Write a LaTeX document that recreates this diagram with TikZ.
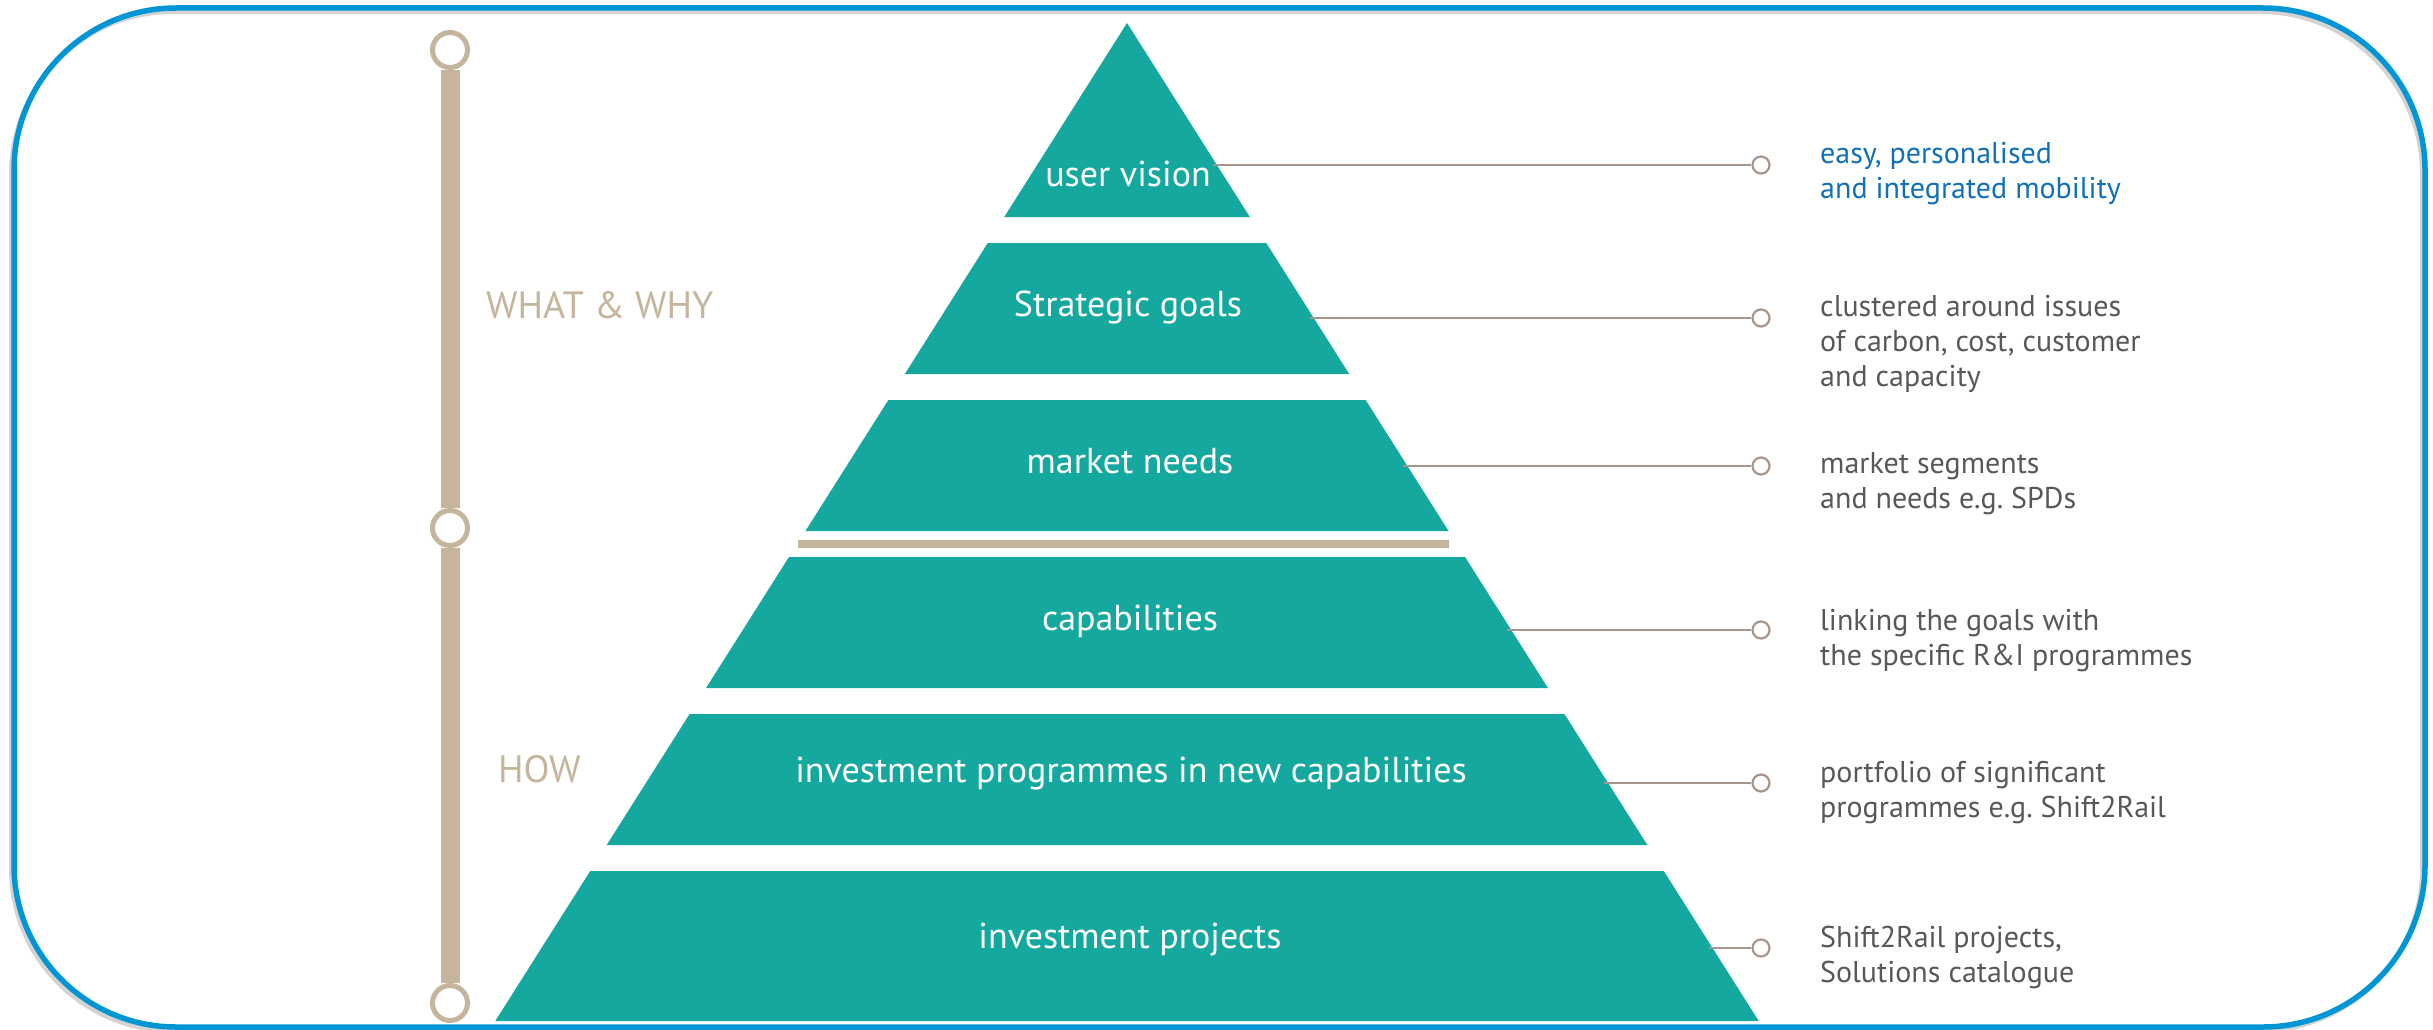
\documentclass[tikz,border=0pt]{standalone}
\usepackage{fontspec}
\setmainfont{PT Sans}
\usepackage{xcolor}
\definecolor{pyrteal}{RGB}{21,168,158}
\definecolor{tan}{RGB}{196,181,156}
\definecolor{frameblue}{RGB}{0,149,213}
\definecolor{noteblue}{RGB}{16,112,186}
\definecolor{notegray}{RGB}{88,88,90}
\definecolor{linkbrown}{RGB}{166,150,140}
\newcommand{\pyrx}{1127}
\newcommand{\slope}{0.633}

\begin{document}
\begin{tikzpicture}[x=1pt, y=-1pt,
  frame/.style={draw=frameblue, line width=5.5pt, rounded corners=162pt},
  tier/.style={fill=pyrteal},
  tierlabel/.style={text=white, font=\fontsize{36}{40}\selectfont, anchor=base, inner sep=0pt},
  note/.style={text=notegray, font=\fontsize{30}{35}\selectfont, align=left, anchor=base west, inner sep=0pt},
  dot/.style={circle, draw=linkbrown, line width=2.2pt, fill=white, minimum size=17pt, inner sep=0pt},
  link/.style={draw=linkbrown, line width=2.2pt},
  milestone/.style={circle, draw=tan, line width=5pt, fill=white, minimum size=35pt, inner sep=0pt},
  phase/.style={text=tan, font=\fontsize{38}{42}\selectfont, anchor=base west, inner sep=0pt}]
  \useasboundingbox (0,0) rectangle (2433,1030);

  % frame
  \draw[gray, opacity=0.35, line width=4pt, rounded corners=162pt, shift={(-3,4)}]
    (14,8) rectangle (2425,1027);
  \draw[frame] (14,8) rectangle (2425,1027);

  % pyramid tiers
  \foreach \ya/\yb in {23/217, 243/374, 400/531, 557/688, 714/845, 871/1021}
    \fill[tier] ({\pyrx-\slope*(\ya-23)},\ya) -- ({\pyrx+\slope*(\ya-23)},\ya)
      -- ({\pyrx+\slope*(\yb-23)},\yb) -- ({\pyrx-\slope*(\yb-23)},\yb) -- cycle;

  % divider between what and how
  \fill[tan] (798,540) rectangle (1449,548);

  % tier labels
  \node[tierlabel] (t1) at (1128,186) {user vision};
  \node[tierlabel] (t2) at (1128,316) {Strategic goals};
  \node[tierlabel] (t3) at (1130,473) {market needs};
  \node[tierlabel] (t4) at (1130,630) {capabilities};
  \node[tierlabel] (t5) at (1131,782) {investment programmes in new capabilities};
  \node[tierlabel] (t6) at (1130,948) {investment projects};

  % links to the notes
  \foreach \i/\y in {1/165, 2/318, 3/466, 4/630, 5/783, 6/948} {
    \coordinate (e\i) at ({\pyrx+\slope*(\y-23)-4},\y);
    \node[dot] (d\i) at (1761,\y) {};
    \draw[link] (e\i) -- (d\i);
  }

  % notes (placed at the baseline of their last line)
  \node[note, text=noteblue] (n1) at (1820,198) {easy, personalised\\and integrated mobility};
  \node[note] (n2) at (1820,386) {clustered around issues\\of carbon, cost, customer\\and capacity};
  \node[note] (n3) at (1820,508) {market segments\\and needs e.g.\ SPDs};
  \node[note] (n4) at (1820,665) {linking the goals with\\the specific R\&I programmes};
  \node[note] (n5) at (1820,817) {portfolio of significant\\programmes e.g.\ Shift2Rail};
  \node[note] (n6) at (1820,982) {Shift2Rail projects,\\Solutions catalogue};

  % time line
  \node[milestone] (c1) at (450,50) {};
  \node[milestone] (c2) at (450,528) {};
  \node[milestone] (c3) at (450,1003) {};
  \draw[tan, line width=19pt] (c1) -- (c2) -- (c3);

  % phases
  \node[phase] (what) at (486,318) {WHAT \& WHY};
  \node[phase] (how) at (498,782) {HOW};
\end{tikzpicture}
\end{document}
